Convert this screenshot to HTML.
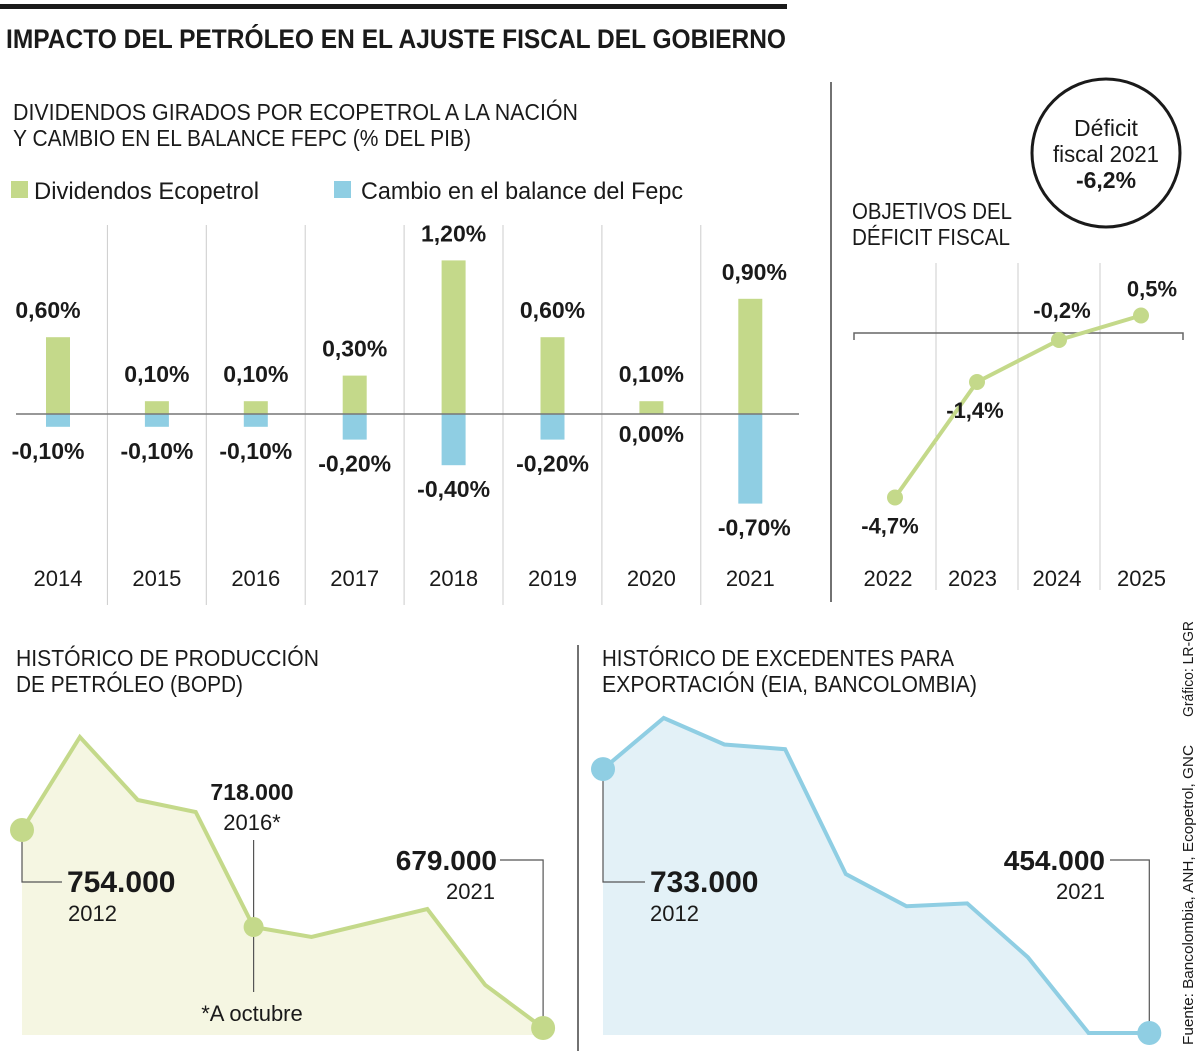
<!DOCTYPE html>
<html><head><meta charset="utf-8">
<style>
html,body{margin:0;padding:0;background:#fff;}
svg{display:block;font-family:"Liberation Sans",sans-serif;}
text{fill:#1a1a1a;}
.b{font-weight:bold;}
</style></head>
<body>
<svg id="s" width="1200" height="1051" viewBox="0 0 1200 1051">
<rect x="0" y="4" width="787" height="5" fill="#1a1a1a"/>
<text x="6" y="48" font-size="27" class="b" textLength="780" lengthAdjust="spacingAndGlyphs">IMPACTO DEL PETRÓLEO EN EL AJUSTE FISCAL DEL GOBIERNO</text>
<text x="13" y="120" font-size="23" textLength="565" lengthAdjust="spacingAndGlyphs">DIVIDENDOS GIRADOS POR ECOPETROL A LA NACIÓN</text>
<text x="13" y="146" font-size="23" textLength="458" lengthAdjust="spacingAndGlyphs">Y CAMBIO EN EL BALANCE FEPC (% DEL PIB)</text>
<rect x="11" y="181" width="17" height="17" fill="#c4d98a"/>
<text x="34" y="199" font-size="24" textLength="225" lengthAdjust="spacingAndGlyphs">Dividendos Ecopetrol</text>
<rect x="334" y="181" width="17" height="17" fill="#8fcee3"/>
<text x="361" y="199" font-size="24" textLength="322" lengthAdjust="spacingAndGlyphs">Cambio en el balance del Fepc</text>
<g id="bars"></g>

<line x1="831" y1="82" x2="831" y2="602" stroke="#444" stroke-width="1.5"/>
<circle cx="1106" cy="153" r="74" fill="none" stroke="#1a1a1a" stroke-width="3"/>
<text x="1106" y="136" font-size="23" text-anchor="middle">Déficit</text>
<text x="1106" y="162" font-size="23" text-anchor="middle" textLength="106" lengthAdjust="spacingAndGlyphs">fiscal 2021</text>
<text x="1106" y="188" font-size="23" class="b" text-anchor="middle">-6,2%</text>
<text x="852" y="219" font-size="23" textLength="160" lengthAdjust="spacingAndGlyphs">OBJETIVOS DEL</text>
<text x="852" y="245" font-size="23" textLength="158" lengthAdjust="spacingAndGlyphs">DÉFICIT FISCAL</text>
<g id="line"></g>

<line x1="578" y1="645" x2="578" y2="1051" stroke="#444" stroke-width="1.5"/>
<text x="16" y="666" font-size="23" textLength="303" lengthAdjust="spacingAndGlyphs">HISTÓRICO DE PRODUCCIÓN</text>
<text x="16" y="692" font-size="23" textLength="227" lengthAdjust="spacingAndGlyphs">DE PETRÓLEO (BOPD)</text>
<text x="602" y="666" font-size="23" textLength="352" lengthAdjust="spacingAndGlyphs">HISTÓRICO DE EXCEDENTES PARA</text>
<text x="602" y="692" font-size="23" textLength="375" lengthAdjust="spacingAndGlyphs">EXPORTACIÓN (EIA, BANCOLOMBIA)</text>
<g id="prod"></g>
<g id="surp"></g>
<text x="0" y="0" font-size="15" transform="translate(1193,717) rotate(-90)" textLength="96" lengthAdjust="spacingAndGlyphs">Gráfico: LR-GR</text>
<text x="0" y="0" font-size="15" transform="translate(1193,1045) rotate(-90)" textLength="300" lengthAdjust="spacingAndGlyphs">Fuente: Bancolombia, ANH, Ecopetrol, GNC</text>
</svg>
<script>
const NS="http://www.w3.org/2000/svg";
// bar chart data
const barYears=["2014","2015","2016","2017","2018","2019","2020","2021"];
const dividendos=[0.6,0.1,0.1,0.3,1.2,0.6,0.1,0.9];
const fepc=[-0.1,-0.1,-0.1,-0.2,-0.4,-0.2,0.0,-0.7];
const divLabels=["0,60%","0,10%","0,10%","0,30%","1,20%","0,60%","0,10%","0,90%"];
const fepcLabels=["-0,10%","-0,10%","-0,10%","-0,20%","-0,40%","-0,20%","0,00%","-0,70%"];
// deficit targets
const defYears=["2022","2023","2024","2025"];
const defValues=[-4.7,-1.4,-0.2,0.5];
const defLabels=["-4,7%","-1,4%","-0,2%","0,5%"];
// production (thousand bpd, chart scale)
const prodYears=[2012,2013,2014,2015,2016,2017,2018,2019,2020,2021];
const prodValues=[877,970,907,895,780,770,784,798,722,679];
// export surplus (thousand bpd, chart scale)
const surpYears=[2012,2013,2014,2015,2016,2017,2018,2019,2020,2021];
const surpValues=[733,787,759,754,622,588,591,534,454,454];

function mk(tag,attrs,parent,txt){const e=document.createElementNS(NS,tag);for(const k in attrs)e.setAttribute(k,attrs[k]);if(txt!==undefined)e.textContent=txt;parent.appendChild(e);return e;}

// ---- bars
const gB=document.getElementById('bars');
const bx=i=>58+i*98.9, by=v=>414-v*128;
for(let i=1;i<barYears.length;i++){const l=mk('line',{x1:bx(i)-49.5,x2:bx(i)-49.5,y1:225,y2:605,stroke:'#ccc','stroke-width':1},gB);

}
barYears.forEach((yr,i)=>{
  const x=bx(i);
  const off=i===0?-10:(i===7?4:0);
  const r1=mk('rect',{x:x-12,y:by(dividendos[i]),width:24,height:by(0)-by(dividendos[i]),fill:'#c4d98a'},gB);
  
  
  const r2=mk('rect',{x:x-12,y:by(0),width:24,height:by(fepc[i])-by(0),fill:'#8fcee3'},gB);
  
  
  const t1=mk('text',{x:x+off,y:by(dividendos[i])-19,'font-size':23,'font-weight':'bold','text-anchor':'middle'},gB,divLabels[i]);
  
  
  const t2=mk('text',{x:x+off,y:by(fepc[i])+(fepc[i]===0?28:32),'font-size':23,'font-weight':'bold','text-anchor':'middle'},gB,fepcLabels[i]);
  
  
  const t3=mk('text',{x:x,y:586,'font-size':22,'text-anchor':'middle'},gB,yr);
  
  
});
const ax=mk('line',{x1:16,x2:799,y1:414,y2:414,stroke:'#777','stroke-width':1.5},gB);



// ---- deficit line
const gL=document.getElementById('line');
const lx=i=>895+i*82, ly=v=>333-v*35;
for(let i=1;i<defYears.length;i++){const l=mk('line',{x1:lx(i)-41,x2:lx(i)-41,y1:263,y2:590,stroke:'#ccc','stroke-width':1},gL);

}
const za=mk('path',{d:'M854 340 V333 H1183 V340',fill:'none',stroke:'#666','stroke-width':1.5},gL);


const lp=mk('polyline',{points:defValues.map((v,i)=>lx(i)+','+ly(v)).join(' '),fill:'none',stroke:'#c4d98a','stroke-width':4},gL);


const loff=[[-5,36],[-2,36],[3,-22],[11,-19]];
defValues.forEach((v,i)=>{
  const c=mk('circle',{cx:lx(i),cy:ly(v),r:8,fill:'#c4d98a'},gL);
  
  
  const t=mk('text',{x:lx(i)+loff[i][0],y:ly(v)+loff[i][1],'font-size':22,'font-weight':'bold','text-anchor':'middle'},gL,defLabels[i]);
  
  
  const y=mk('text',{x:lx(i)-7+i*2.5,y:586,'font-size':22,'text-anchor':'middle'},gL,defYears[i]);
  
  
});

// ---- production area
const gP=document.getElementById('prod');
const px=i=>22+i*57.9, py=v=>1028-(v-679)*1.0;
const pp=prodValues.map((v,i)=>[px(i),py(v)]);
const pa=mk('path',{d:'M'+pp.map(p=>p.join(',')).join(' L')+' L'+pp[pp.length-1][0]+',1035 L'+pp[0][0]+',1035 Z',fill:'#f5f6e2'},gP);


const pl=mk('polyline',{points:pp.map(p=>p.join(',')).join(' '),fill:'none',stroke:'#c4d98a','stroke-width':4},gP);


const pc1=mk('path',{d:`M${pp[0][0]},${pp[0][1]} V882 H62`,fill:'none',stroke:'#555','stroke-width':1.2},gP);


const pc2=mk('line',{x1:pp[4][0],x2:pp[4][0],y1:840,y2:992,stroke:'#555','stroke-width':1.2},gP);


const pc3=mk('path',{d:`M500,860 H${pp[9][0]} V${pp[9][1]}`,fill:'none',stroke:'#555','stroke-width':1.2},gP);


[0,4,9].forEach(i=>{const c=mk('circle',{cx:pp[i][0],cy:pp[i][1],r:i===4?10:12,fill:'#c4d98a'},gP);

});
[["754.000",67,892,30,'start','bold','prod-value-2012'],["2012",68,921,22,'start','normal','prod-year-2012'],
 ["718.000",252,800,23,'middle','bold','prod-value-2016'],["2016*",252,830,22,'middle','normal','prod-year-2016'],
 ["*A octubre",252,1021,22,'middle','normal','prod-footnote'],
 ["679.000",497,870,28,'end','bold','prod-value-2021'],["2021",495,899,22,'end','normal','prod-year-2021']].forEach(a=>{
 const t=mk('text',{x:a[1],y:a[2],'font-size':a[3],'text-anchor':a[4],'font-weight':a[5]},gP,a[0]);
 
 });

// ---- surplus area
const gS=document.getElementById('surp');
const sx=i=>603+i*60.7, sy=v=>1033-(v-454)*0.946;
const sp=surpValues.map((v,i)=>[sx(i),sy(v)]);
const sa=mk('path',{d:'M'+sp.map(p=>p.join(',')).join(' L')+' L'+sp[sp.length-1][0]+',1035 L'+sp[0][0]+',1035 Z',fill:'#e3f1f7'},gS);


const sl=mk('polyline',{points:sp.map(p=>p.join(',')).join(' '),fill:'none',stroke:'#8fcee3','stroke-width':4},gS);


const sc1=mk('path',{d:`M${sp[0][0]},${sp[0][1]} V882 H645`,fill:'none',stroke:'#555','stroke-width':1.2},gS);


const sc2=mk('path',{d:`M1110,860 H${sp[9][0]} V${sp[9][1]}`,fill:'none',stroke:'#555','stroke-width':1.2},gS);


[0,9].forEach(i=>{const c=mk('circle',{cx:sp[i][0],cy:sp[i][1],r:12,fill:'#8fcee3'},gS);

});
[["733.000",650,892,30,'start','bold','surp-value-2012'],["2012",650,921,22,'start','normal','surp-year-2012'],
 ["454.000",1105,870,28,'end','bold','surp-value-2021'],["2021",1105,899,22,'end','normal','surp-year-2021']].forEach(a=>{
 const t=mk('text',{x:a[1],y:a[2],'font-size':a[3],'text-anchor':a[4],'font-weight':a[5]},gS,a[0]);
 
 });
</script>
</body></html>
